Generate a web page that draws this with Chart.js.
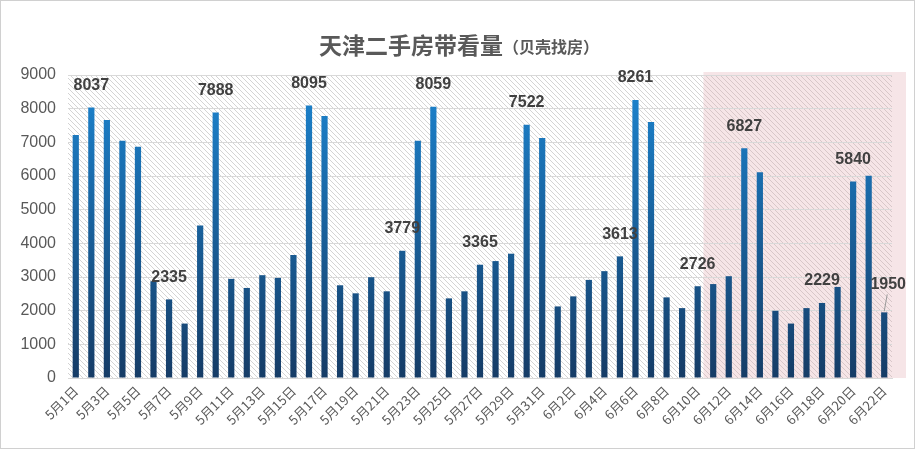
<!DOCTYPE html>
<html><head><meta charset="utf-8">
<script src="https://cdn.jsdelivr.net/npm/chart.js@4/dist/chart.umd.min.js"></script>
<style>
html,body{margin:0;padding:0;background:#fff;}
#wrap{position:relative;width:913px;height:447px;border:1px solid #d0d0d0;}
</style></head><body>
<div id="wrap"><canvas id="c" width="913" height="447"></canvas></div>
<script>
const categories = [];
for (let d = 1; d <= 31; d++) categories.push('5月' + d + '日');
for (let d = 1; d <= 22; d++) categories.push('6月' + d + '日');

const values = [
  7216, 8037, 7665, 7045, 6866, 2874, 2335, 1617, 4530, 7888,
  2944, 2675, 3054, 2974, 3653, 8095, 7784, 2754, 2515, 2994,
  2575, 3779, 7045, 8059, 2365, 2575, 3365, 3473, 3692, 7522,
  7126, 2126, 2425, 2914, 3174, 3613, 8261, 7605, 2395, 2076,
  2726, 2790, 3024, 6827, 6108, 1996, 1617, 2076, 2229, 2705,
  5840, 6008, 1950
];
const labeledIdx = [1, 6, 9, 15, 21, 23, 26, 29, 35, 36, 40, 43, 48, 50, 52];
const yTicks = [0,1000,2000,3000,4000,5000,6000,7000,8000,9000];
const titleMain = '天津二手房带看量';
const titleSub = '（贝壳找房）';
const shadeFrom = 40; // shaded region starts after this index

function hatch(ctx){
  const p = document.createElement('canvas'); p.width = 5; p.height = 5;
  const g = p.getContext('2d');
  g.fillStyle = '#ffffff'; g.fillRect(0,0,5,5);
  g.strokeStyle = '#d4d4d4'; g.lineWidth = 1;
  g.beginPath(); g.moveTo(-1,-1); g.lineTo(6,6); g.moveTo(-1,4); g.lineTo(1,6); g.moveTo(4,-1); g.lineTo(6,1); g.stroke();
  return ctx.createPattern(p, 'repeat');
}

const bgPlugin = {
  id: 'bg',
  beforeDraw(chart){
    const {ctx, chartArea:a, scales:{x}} = chart;
    ctx.save();
    ctx.fillStyle = hatch(ctx);
    ctx.fillRect(a.left, a.top, a.right - a.left, a.bottom - a.top);
    const sx = (x.getPixelForValue(shadeFrom) + x.getPixelForValue(shadeFrom+1)) / 2 - 2;
    ctx.fillStyle = 'rgba(225,170,175,0.3)';
    ctx.fillRect(sx, a.top - 3, 905 - sx, a.bottom - a.top + 3);
    ctx.restore();
  }
};

const titlePlugin = {
  id: 'ttl',
  afterDraw(chart){
    const ctx = chart.ctx;
    ctx.save();
    ctx.fillStyle = '#595959';
    ctx.textBaseline = 'alphabetic';
    const f1 = 'bold 23px "Noto Sans CJK SC"', f2 = 'bold 16px "Noto Sans CJK SC"';
    ctx.font = f1; const w1 = ctx.measureText(titleMain).width;
    ctx.font = f2; const w2 = ctx.measureText(titleSub).width;
    let x0 = 458 - (w1 + w2) / 2;
    ctx.font = f1; ctx.fillText(titleMain, x0, 53);
    ctx.font = f2; ctx.fillText(titleSub, x0 + w1, 52);
    ctx.restore();
  }
};

const labelPlugin = {
  id: 'lbl',
  afterDatasetsDraw(chart){
    const ctx = chart.ctx, meta = chart.getDatasetMeta(0);
    ctx.save();
    ctx.font = 'bold 16px "Liberation Sans", Arial, sans-serif';
    ctx.fillStyle = '#404040';
    ctx.textAlign = 'center'; ctx.textBaseline = 'middle';
    labeledIdx.forEach(i => {
      const el = meta.data[i];
      let lx = el.x, ly = el.y - 22;
      if (i === labeledIdx[labeledIdx.length-1]) {
        ly = el.y - 28; lx = el.x + 4;
        ctx.strokeStyle = '#999'; ctx.lineWidth = 1;
        ctx.beginPath(); ctx.moveTo(el.x + 3, ly + 10); ctx.lineTo(el.x, el.y - 1); ctx.stroke();
      }
      ctx.fillText(String(values[i]), lx, ly);
    });
    ctx.restore();
  }
};

new Chart(document.getElementById('c'), {
  type: 'bar',
  data: {
    labels: categories,
    datasets: [{
      data: values,
      backgroundColor(c){
        const a = c.chart.chartArea;
        if (!a) return '#1f6fb0';
        const g = c.chart.ctx.createLinearGradient(0, a.top, 0, a.bottom);
        g.addColorStop(0, '#1c86d2');
        g.addColorStop(1, '#163c66');
        return g;
      },
      barPercentage: 0.4,
      categoryPercentage: 1.0
    }]
  },
  options: {
    responsive: false,
    animation: false,
    layout: { padding: { left: 10, right: 22, top: 74, bottom: 4 } },
    plugins: { legend: { display: false }, tooltip: { enabled: false }, title: { display: false } },
    scales: {
      x: {
        grid: { display: false, drawTicks: false },
        border: { color: '#d9d9d9' },
        ticks: {
          autoSkip: false, maxRotation: 45, minRotation: 45,
          color: '#595959', font: { size: 13, family: '"Noto Sans CJK SC"' },
          padding: 5,
          callback(v, i){ return i % 2 === 0 ? categories[i] : ''; }
        },
        afterFit(s){ s.height = 66; }
      },
      y: {
        min: 0, max: 9000,
        afterBuildTicks(s){ s.ticks = yTicks.map(v => ({value: v})); },
        grid: { color: '#d9d9d9', drawTicks: false },
        border: { display: false },
        ticks: { color: '#595959', font: { size: 16, family: '"Liberation Sans", Arial, sans-serif' }, padding: 12,
                 callback(v){ return String(v); } },
        afterFit(s){ s.width = 57; }
      }
    }
  },
  plugins: [bgPlugin, titlePlugin, labelPlugin]
});
</script>
</body></html>
